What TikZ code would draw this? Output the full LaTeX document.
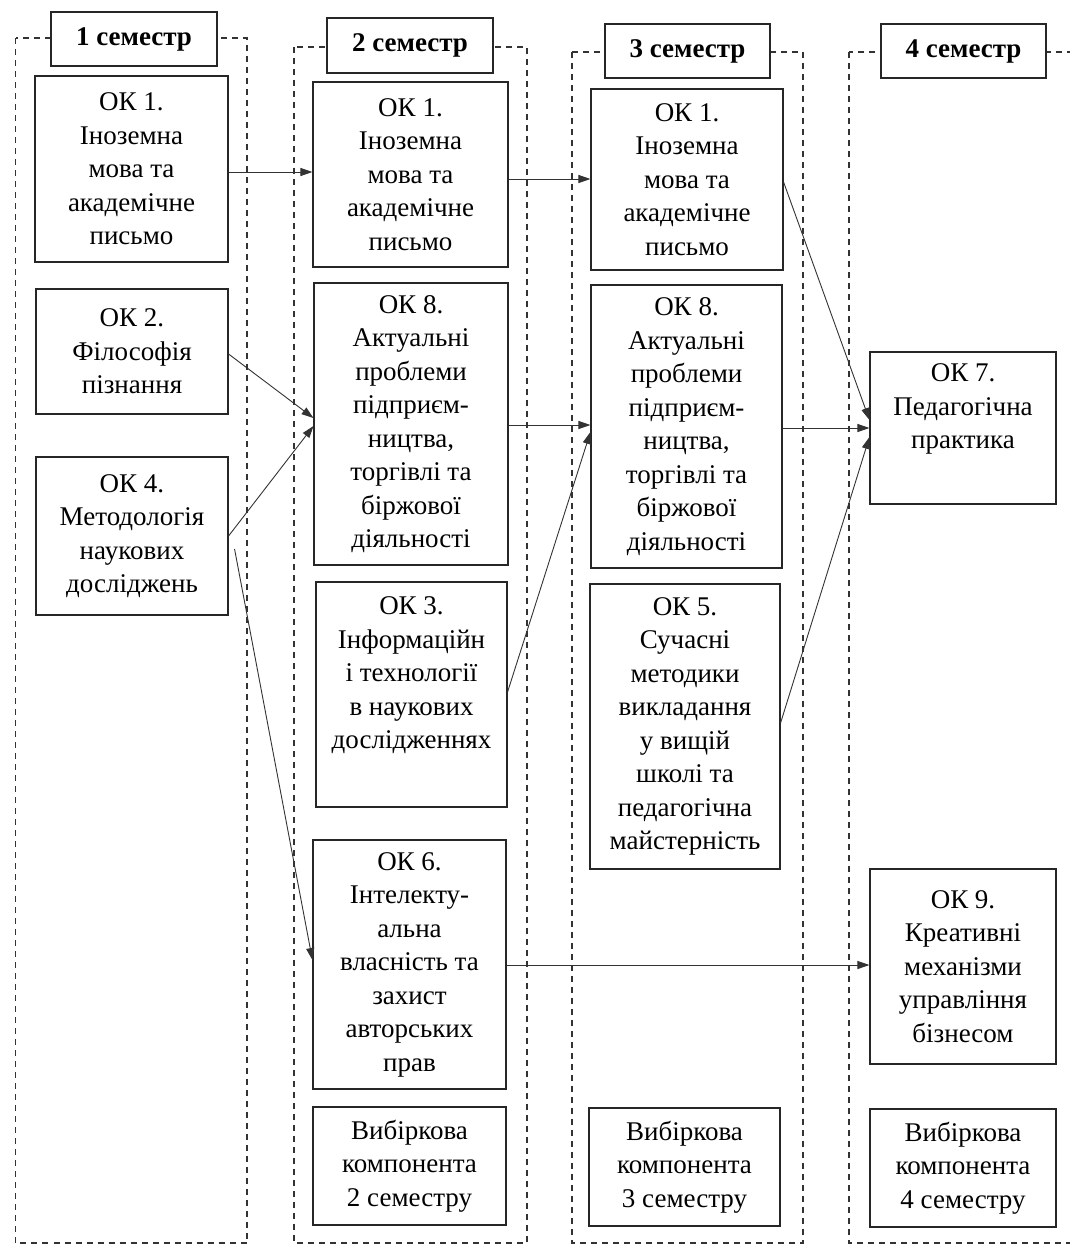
\documentclass[tikz,border=0pt]{standalone}
\usepackage{fontspec}
\setmainfont{Liberation Serif}
\usetikzlibrary{arrows.meta}
\begin{document}
\begin{tikzpicture}[x=1pt,y=-1pt,
  box/.style={draw=black!85, line width=1.1pt, fill=white, inner sep=0pt, align=center,
    font=\fontsize{27}{33.5}\selectfont},
  hdr/.style={draw=black!85, line width=1.1pt, fill=white, inner sep=0pt,
    font=\fontsize{27}{32}\selectfont\bfseries},
  semframe/.style={draw=black!80, line width=1.1pt, dash pattern=on 6pt off 5pt},
  arr/.style={draw=black!80, line width=0.9pt, -{Triangle[length=12pt,width=8pt]}}]
\useasboundingbox (0,0) rectangle (1070,1245);
\fill[white] (0,0) rectangle (1070,1245);
% semester frames
\draw[semframe] (15.5,38) rectangle (247,1243);
\draw[semframe] (294,47) rectangle (527,1243);
\draw[semframe] (572,52) rectangle (803,1243);
\draw[semframe] (849,52) rectangle (1090,1243);
% headers
\node[hdr, minimum width=166pt, minimum height=54pt] (h1) at (134,39) {1 семестр};
\node[hdr, minimum width=166pt, minimum height=55pt] (h2) at (410,45.5) {2 семестр};
\node[hdr, minimum width=165pt, minimum height=54pt] (h3) at (687.5,51) {3 семестр};
\node[hdr, minimum width=165pt, minimum height=54pt] (h4) at (963.5,51) {4 семестр};
% column 1
\node[box, minimum width=193pt, minimum height=186pt] (c1ok1) at (131.5,169)
  {ОК 1.\\Іноземна\\мова та\\академічне\\письмо};
\node[box, minimum width=192pt, minimum height=125pt] (c1ok2) at (132,351.5)
  {ОК 2.\\Філософія\\пізнання};
\node[box, minimum width=192pt, minimum height=158pt] (c1ok4) at (132,536)
  {ОК 4.\\Методологія\\наукових\\досліджень};
% column 2
\node[box, minimum width=195pt, minimum height=185pt] (c2ok1) at (410.5,174.5)
  {ОК 1.\\Іноземна\\мова та\\академічне\\письмо};
\node[box, minimum width=194pt, minimum height=282pt] (c2ok8) at (411,424)
  {ОК 8.\\Актуальні\\проблеми\\підприєм-\\ництва,\\торгівлі та\\біржової\\діяльності};
\node[box, minimum width=191pt, minimum height=225pt] (c2ok3) at (411.5,694.5)
  {ОК 3.\\Інформаційн\\і технології\\в наукових\\дослідженнях\\\strut};
\node[box, minimum width=193pt, minimum height=249pt] (c2ok6) at (409.5,964.5)
  {ОК 6.\\Інтелекту-\\альна\\власність та\\захист\\авторських\\прав};
\node[box, minimum width=193pt, minimum height=118pt] (c2vyb) at (409.5,1166)
  {Вибіркова\\компонента\\2 семестру};
% column 3
\node[box, minimum width=192pt, minimum height=181pt] (c3ok1) at (687,179.5)
  {ОК 1.\\Іноземна\\мова та\\академічне\\письмо};
\node[box, minimum width=191pt, minimum height=283pt] (c3ok8) at (686.5,426.5)
  {ОК 8.\\Актуальні\\проблеми\\підприєм-\\ництва,\\торгівлі та\\біржової\\діяльності};
\node[box, minimum width=190pt, minimum height=285pt] (c3ok5) at (685,726.5)
  {ОК 5.\\Сучасні\\методики\\викладання\\у вищій\\школі та\\педагогічна\\майстерність};
\node[box, minimum width=191pt, minimum height=118pt] (c3vyb) at (684.5,1167)
  {Вибіркова\\компонента\\3 семестру};
% column 4
\node[box, minimum width=186pt, minimum height=152pt] (c4ok7) at (963,428)
  {ОК 7.\\Педагогічна\\практика\\\strut};
\node[box, minimum width=186pt, minimum height=195pt] (c4ok9) at (963,966.5)
  {ОК 9.\\Креативні\\механізми\\управління\\бізнесом};
\node[box, minimum width=186pt, minimum height=118pt] (c4vyb) at (963,1168)
  {Вибіркова\\компонента\\4 семестру};
% arrows
\coordinate (s1) at ([yshift=-3pt]c1ok1.east);
\draw[arr] (s1) -- (s1 -| c2ok1.west);
\coordinate (s2) at ([yshift=-4.5pt]c2ok1.east);
\draw[arr] (s2) -- (s2 -| c3ok1.west);
\draw[arr] ([yshift=-2.5pt]c1ok2.east) -- ([yshift=6pt]c2ok8.west);
\draw[arr] (c1ok4.east) -- ([yshift=-2pt]c2ok8.west);
\draw[arr] ([xshift=6pt,yshift=-13pt]c1ok4.east) -- ([yshift=4.5pt]c2ok6.west);
\draw[arr] ([yshift=2.5pt]c2ok3.east) -- ([yshift=-5.5pt]c3ok8.west);
\coordinate (s7) at ([yshift=-1pt]c2ok8.east);
\draw[arr] (s7) -- (s7 -| c3ok8.west);
\draw[arr] ([yshift=-2.5pt]c3ok1.east) -- ([yshift=8pt]c4ok7.west);
\coordinate (s9) at ([yshift=-1.5pt]c3ok8.east);
\draw[arr] (s9) -- (s9 -| c4ok7.west);
\draw[arr] ([yshift=3.5pt]c3ok5.east) -- ([yshift=-9pt]c4ok7.west);
\coordinate (s11) at ([yshift=-0.5pt]c2ok6.east);
\draw[arr] (s11) -- (s11 -| c4ok9.west);
\end{tikzpicture}
\end{document}
